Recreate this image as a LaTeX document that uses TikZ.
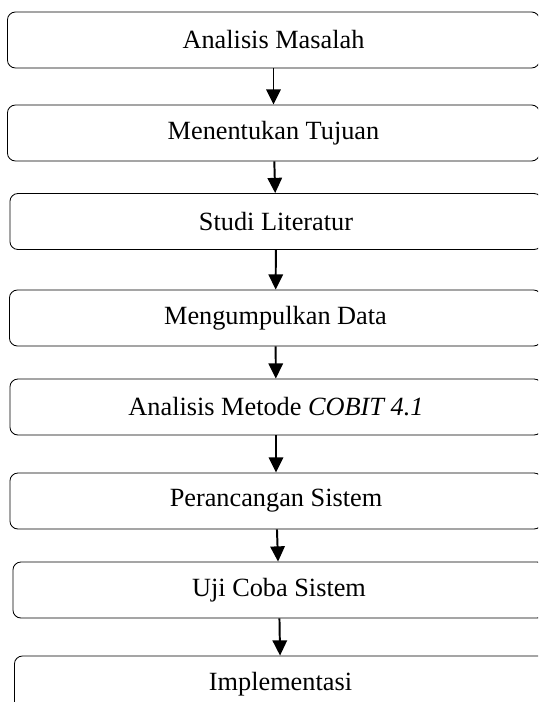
\documentclass[tikz,border=0pt]{standalone}
\usepackage{fontspec}
\setmainfont{Liberation Serif}
\usepackage{tikz}
\usetikzlibrary{arrows.meta}

\begin{document}
\begin{tikzpicture}[x=0.025cm, y=-0.025cm,
    box/.style={draw, rounded corners=0.2cm, line width=0.6pt,
        minimum width=13.3cm, minimum height=1.4cm, inner sep=0pt,
        font=\fontsize{18.7}{22}\selectfont},
    flow/.style={-{Triangle[width=0.36cm, length=0.38cm]}, line width=1.4pt}]
    \useasboundingbox (0,0) rectangle (538,702);
    \clip (0,0) rectangle (538,702);

    \node[box] (S1) at (273.5,40) {Analisis Masalah};
    \node[box] (S2) at (273.5,133) {Menentukan Tujuan};
    \node[box] (S3) at (276,221.5) {Studi Literatur};
    \node[box] (S4) at (275.5,318) {Mengumpulkan Data};
    \node[box] (S5) at (276,407) {Analisis Metode \textit{COBIT 4.1}};
    \node[box] (S6) at (276,501) {Perancangan Sistem};
    \node[box] (S7) at (279,590) {Uji Coba Sistem};
    \node[box] (S8) at (280.5,684) {Implementasi};

    \draw[flow] (S1) -- (S2);
    \draw[flow] (S2) -- (S3);
    \draw[flow] (S3) -- (S4);
    \draw[flow] (S4) -- (S5);
    \draw[flow] (S5) -- (S6);
    \draw[flow] (S6) -- (S7);
    \draw[flow] (S7) -- (S8);
\end{tikzpicture}
\end{document}
